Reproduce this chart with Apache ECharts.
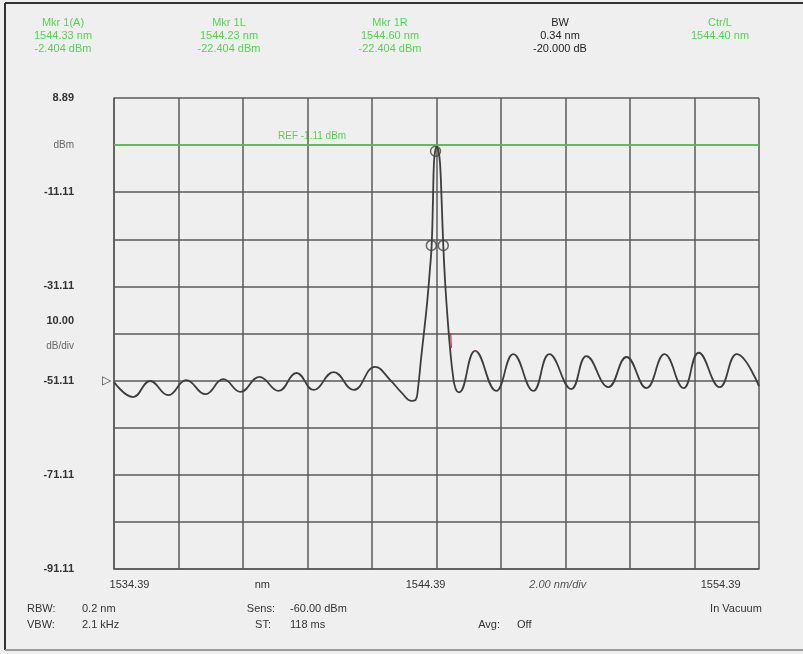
<!DOCTYPE html>
<html>
<head>
<meta charset="utf-8">
<script src="https://cdn.jsdelivr.net/npm/echarts@6/dist/echarts.min.js"></script>
<style>
html,body{margin:0;padding:0;background:#efefef;}
#c{width:803px;height:654px;}
</style>
</head>
<body>
<div id="c"></div>
<script>
// ---- axis definitions ----
const START_NM = 1534.39;      // left edge of the sweep
const SPAN_DIV_NM = 2.0;       // nm per division
const TOP_DBM = 8.89;          // top of the screen
const BOTTOM_DBM = -91.11;     // bottom of the screen
const REF_DBM = -1.11;         // reference level

// y tick labels from bottom (index 0) to top (index 10)
const yTickLabels = ['-91.11', '', '-71.11', '', '-51.11', '10.00|dB/div', '-31.11', '', '-11.11', 'dBm', '8.89'];

// x annotation labels
const xAnnotLabels = ['1534.39', 'nm', '1544.39', '2.00 nm/div', '1554.39'];
const xAnnotNm = [1534.87, 1538.99, 1544.05, 1548.15, 1553.20];

// ---- trace (wavelength nm / power dBm) ----
const traceNm = [
  1534.39, 1534.98, 1535.51, 1536.07, 1536.63, 1537.22, 1537.78, 1538.31, 1538.90, 1539.49,
  1540.05, 1540.58, 1541.20, 1541.82, 1542.48, 1542.97, 1543.30, 1543.62, 1543.74, 1543.82,
  1543.91, 1544.00, 1544.10, 1544.18, 1544.24, 1544.28, 1544.31, 1544.35, 1544.40, 1544.45,
  1544.50, 1544.55, 1544.60, 1544.66, 1544.74, 1544.82, 1544.90, 1544.98, 1545.09,
  1545.59, 1546.24, 1546.77, 1547.39, 1547.89, 1548.57, 1549.04, 1549.72, 1550.28, 1550.90,
  1551.46, 1552.05, 1552.52, 1553.17, 1553.70, 1554.39
];
const traceDbm = [
  -51.4, -54.6, -51.2, -54.2, -51.0, -54.0, -50.8, -53.5, -50.3, -53.3,
  -49.5, -53.1, -49.3, -53.1, -48.2, -51.1, -53.6, -55.4, -55.2, -52.5,
  -46.5, -41.0, -34.5, -28.0, -22.4, -13.0, -5.0, -2.3, -1.5, -2.3,
  -5.0, -13.0, -22.4, -30.5, -38.5, -45.0, -50.0, -52.8, -53.6,
  -44.8, -53.3, -45.5, -53.3, -45.5, -52.9, -45.9, -52.5, -46.1, -52.7,
  -45.5, -52.7, -45.2, -52.5, -45.5, -52.3
];

// ---- markers ----
const markerNames = ['Mkr 1(A)', 'Mkr 1L', 'Mkr 1R'];
const markerNm = [1544.36, 1544.23, 1544.60];
const markerDbm = [-2.404, -22.404, -22.404];

// small red artefacts on the trace
const redSeg1Nm = [1544.83, 1544.85];
const redSeg1Dbm = [-41.0, -44.2];
const redSeg2Nm = [1545.55, 1545.63];
const redSeg2Dbm = [-44.9, -44.9];

// ---- header / footer texts ----
const headerGreen = [
  ['Mkr 1(A)', '1544.33 nm', '-2.404 dBm'],
  ['Mkr 1L', '1544.23 nm', '-22.404 dBm'],
  ['Mkr 1R', '1544.60 nm', '-22.404 dBm']
];
const headerBW = ['BW', '0.34 nm', '-20.000 dB'];
const headerCtr = ['Ctr/L', '1544.40 nm'];

const toX = nm => nm - START_NM;
const toY = d => d - BOTTOM_DBM;
const pairs = (xs, ys) => xs.map((x, i) => [toX(x), toY(ys[i])]);

const GREEN = '#4fd64f';
const FONT = 'Liberation Sans, Arial, sans-serif';

const chart = echarts.init(document.getElementById('c'), null, {renderer: 'canvas'});

function txt(x, y, text, color, size, align) {
  return {
    type: 'text', x: x, y: y, silent: true,
    style: {text: text, fill: color, font: (size || 11) + 'px ' + FONT,
            align: align || 'center', verticalAlign: 'middle'}
  };
}

const graphics = [];
// frame
graphics.push({type: 'line', shape: {x1: 5, y1: 3, x2: 803, y2: 3}, style: {stroke: '#333', lineWidth: 2}, silent: true});
graphics.push({type: 'line', shape: {x1: 5, y1: 3, x2: 5, y2: 650}, style: {stroke: '#333', lineWidth: 2}, silent: true});
graphics.push({type: 'line', shape: {x1: 5, y1: 650, x2: 803, y2: 650}, style: {stroke: '#9a9a9a', lineWidth: 2}, silent: true});

// header
const colX = [63, 229, 390];
const rowY = [23, 36, 49];
headerGreen.forEach((col, i) => col.forEach((t, j) => graphics.push(txt(colX[i], rowY[j], t, GREEN, 11))));
headerBW.forEach((t, j) => graphics.push(txt(560, rowY[j], t, '#222', 11)));
headerCtr.forEach((t, j) => graphics.push(txt(720, rowY[j], t, GREEN, 11)));

// REF label
graphics.push(txt(278, 136, 'REF -1.11 dBm', GREEN, 10, 'left'));
// reference-level arrow at the left
graphics.push(txt(106, 381, '\u25B7', '#444', 12));

// footer
const f1 = 609, f2 = 625;
graphics.push(txt(27, f1, 'RBW:', '#333', 11, 'left'));
graphics.push(txt(82, f1, '0.2 nm', '#333', 11, 'left'));
graphics.push(txt(27, f2, 'VBW:', '#333', 11, 'left'));
graphics.push(txt(82, f2, '2.1 kHz', '#333', 11, 'left'));
graphics.push(txt(275, f1, 'Sens:', '#333', 11, 'right'));
graphics.push(txt(290, f1, '-60.00 dBm', '#333', 11, 'left'));
graphics.push(txt(271, f2, 'ST:', '#333', 11, 'right'));
graphics.push(txt(290, f2, '118 ms', '#333', 11, 'left'));
graphics.push(txt(500, f2, 'Avg:', '#333', 11, 'right'));
graphics.push(txt(517, f2, 'Off', '#333', 11, 'left'));
graphics.push(txt(736, f1, 'In Vacuum', '#333', 11, 'center'));

const option = {
  backgroundColor: '#efefef',
  animation: false,
  grid: {left: 114, right: 44, top: 98, bottom: 85, containLabel: false},
  xAxis: {
    type: 'value', min: 0, max: 20, interval: SPAN_DIV_NM,
    axisLabel: {show: false}, axisTick: {show: false},
    axisLine: {show: true, lineStyle: {color: '#5a5a5a', width: 1.5}},
    splitLine: {show: true, showMinLine: true, showMaxLine: true, lineStyle: {color: '#5a5a5a', width: 1.5}}
  },
  yAxis: {
    type: 'value', min: 0, max: TOP_DBM - BOTTOM_DBM, interval: 10,
    axisTick: {show: false},
    axisLine: {show: true, lineStyle: {color: '#5a5a5a', width: 1.5}},
    splitLine: {show: true, showMinLine: true, showMaxLine: true, lineStyle: {color: '#5a5a5a', width: 1.5}},
    axisLabel: {
      margin: 40,
      formatter: v => {
        const s = yTickLabels[Math.round(v / 10)] || '';
        if (s.indexOf('|') >= 0) { const p = s.split('|'); return '{a|' + p[0] + '}\n{b|' + p[1] + '}'; }
        if (s === 'dBm') return '{b|' + s + '}';
        return s ? '{a|' + s + '}' : '';
      },
      rich: {
        a: {fontFamily: FONT, fontSize: 11, color: '#333', fontWeight: 'bold', lineHeight: 25},
        b: {fontFamily: FONT, fontSize: 10, color: '#666', lineHeight: 25}
      }
    }
  },
  graphic: {elements: graphics},
  series: [
    {
      type: 'line', name: 'trace', data: pairs(traceNm, traceDbm),
      showSymbol: false, smooth: 0.45, silent: true,
      lineStyle: {color: '#3d3d3d', width: 1.8},
      markLine: {
        silent: true, symbol: ['none', 'none'], label: {show: false},
        lineStyle: {color: GREEN, width: 1.6, type: 'solid'},
        data: [{yAxis: toY(REF_DBM)}]
      },
      z: 3
    },
    {
      type: 'line', data: pairs(redSeg1Nm, redSeg1Dbm), showSymbol: false, silent: true,
      lineStyle: {color: '#e03030', width: 1.2}, z: 4
    },
    {
      type: 'line', data: pairs(redSeg2Nm, redSeg2Dbm), showSymbol: false, silent: true,
      lineStyle: {color: '#e03030', width: 1.2}, z: 4
    },
    {
      type: 'scatter', name: 'markers', data: pairs(markerNm, markerDbm),
      symbol: 'circle', symbolSize: 10, silent: true,
      itemStyle: {color: 'rgba(0,0,0,0)', borderColor: '#444', borderWidth: 1.5}, z: 5
    }
  ]
};
chart.setOption(option);
// x annotation labels placed along the bottom axis
xAnnotLabels.forEach((t, i) => {
  const p = chart.convertToPixel({gridIndex: 0}, [toX(xAnnotNm[i]), 0]);
  const italic = t.indexOf('div') >= 0;
  graphics.push({
    type: 'text', x: p[0], y: p[1] + 16, silent: true,
    style: {text: t, fill: italic ? '#555' : '#333', font: (italic ? 'italic ' : '') + '11px ' + FONT,
            align: 'center', verticalAlign: 'middle'}
  });
});
chart.setOption({graphic: {elements: graphics}});
</script>
</body>
</html>
